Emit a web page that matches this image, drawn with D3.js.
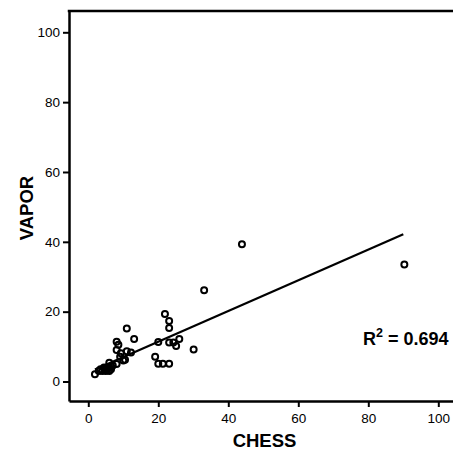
<!DOCTYPE html>
<html>
<head>
<meta charset="utf-8">
<script src="https://cdn.jsdelivr.net/npm/d3@7"></script>
<style>
  body { margin: 0; background: #fff; }
  svg { display: block; font-family: "Liberation Sans", Arial, sans-serif; }
  .axis path, .axis line { stroke: #000; }
  .axis text { font-size: 13.5px; fill: #000; }
</style>
</head>
<body>
<svg width="453" height="449"></svg>
<script>
// CHESS vs VAPOR scores
var chess = [1.9, 3, 3.5, 4, 4.5, 5, 5, 5.5, 6, 6, 6.5, 7, 6, 8.1, 10, 9.1, 10.5, 8.1, 9.3, 8.1, 8.6,
  11, 13.1, 12.2, 11, 20, 21.9, 23.1, 23.1, 23.1, 24.3, 26, 25.1, 19.1, 20, 21.3, 23.1, 30.1, 33.1, 43.9, 90.3];
var vapor = [2.1, 3, 3.5, 3, 4, 3, 3.6, 4, 3, 4, 3.5, 4.6, 5.4, 5.0, 6, 7.1, 6.2, 9.0, 8.1, 11.4, 10.5,
  15.2, 12.2, 8.3, 8.7, 11.3, 19.3, 17.3, 15.3, 11.2, 11.2, 12.2, 10.2, 7.1, 5.1, 5.1, 5.1, 9.2, 26.1, 39.3, 33.5];
var xTicks = [0, 20, 40, 60, 80, 100];
var yTicks = [0, 20, 40, 60, 80, 100];
// linear fit: intercept, slope, and x range covered by the line
var fit = [2.6, 0.44];
var fitRange = [1.9, 90];
var r2 = "0.694";

var svg = d3.select("svg"),
    width = +svg.attr("width"),
    height = +svg.attr("height");

var plotLeft = 69, plotTop = 11, plotBottom = 401;

var x = d3.scaleLinear().domain([-5.51, 104.2]).range([plotLeft, width]);
var y = d3.scaleLinear().domain([-5.58, 106.1]).range([plotBottom, plotTop]);

// x axis
var xAxis = svg.append("g")
    .attr("class", "axis")
    .attr("transform", "translate(0," + plotBottom + ")")
    .call(d3.axisBottom(x).tickValues(xTicks).tickSize(6).tickPadding(6).tickSizeOuter(0));
xAxis.select(".domain").attr("stroke-width", 2.5);
xAxis.selectAll(".tick line").attr("stroke-width", 2);

// y axis
var yAxis = svg.append("g")
    .attr("class", "axis")
    .attr("transform", "translate(" + plotLeft + ",0)")
    .call(d3.axisLeft(y).tickValues(yTicks).tickSize(6).tickPadding(3).tickSizeOuter(0));
yAxis.select(".domain").attr("stroke-width", 2.5);
yAxis.selectAll(".tick line").attr("stroke-width", 2);

// top frame line
svg.append("line")
    .attr("x1", plotLeft - 1.25).attr("x2", width)
    .attr("y1", plotTop).attr("y2", plotTop)
    .attr("stroke", "#000").attr("stroke-width", 2.5);

// regression line
svg.append("line")
    .attr("x1", x(fitRange[0])).attr("y1", y(fit[0] + fit[1] * fitRange[0]))
    .attr("x2", x(fitRange[1])).attr("y2", y(fit[0] + fit[1] * fitRange[1]))
    .attr("stroke", "#000").attr("stroke-width", 2.2);

// points
svg.append("g").selectAll("circle")
    .data(chess)
    .enter().append("circle")
    .attr("cx", function(d) { return x(d); })
    .attr("cy", function(d, i) { return y(vapor[i]); })
    .attr("r", 3)
    .attr("fill", "none")
    .attr("stroke", "#000")
    .attr("stroke-width", 2);

// R squared label
var rt = svg.append("text")
    .attr("x", 363).attr("y", 345)
    .style("font-size", "18px").style("font-weight", "bold");
rt.append("tspan").text("R");
rt.append("tspan").attr("dy", -8).style("font-size", "12.5px").text("2");
rt.append("tspan").attr("dy", 8).text(" = " + r2);

// axis titles
svg.append("text")
    .attr("x", 264.5).attr("y", 446.5)
    .attr("text-anchor", "middle")
    .style("font-size", "18.5px").style("font-weight", "bold")
    .text("CHESS");

svg.append("text")
    .attr("transform", "translate(33,208) rotate(-90)")
    .attr("text-anchor", "middle")
    .style("font-size", "18.5px").style("font-weight", "bold")
    .text("VAPOR");
</script>
</body>
</html>
